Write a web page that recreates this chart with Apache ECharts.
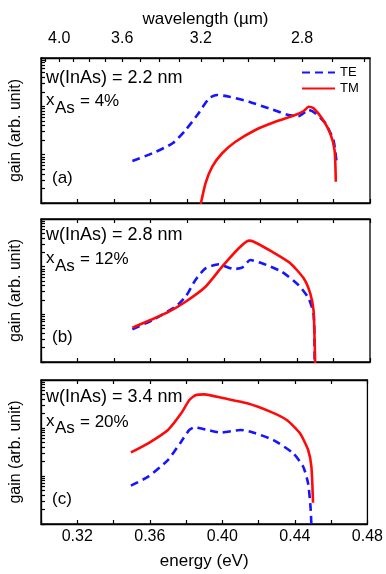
<!DOCTYPE html>
<html><head><meta charset="utf-8">
<script src="https://cdn.jsdelivr.net/npm/echarts@6/dist/echarts.min.js"></script>
<style>html,body{margin:0;padding:0;background:#fff}#c{width:386px;height:574px}</style>
</head><body><div id="c"></div>
<script>
// ---------- data ----------
// panel (a): w(InAs)=2.2 nm, xAs=4%
const energyTE_a = [0.350, 0.361, 0.372, 0.379, 0.3855, 0.392, 0.3964, 0.403, 0.4137, 0.4246, 0.4355, 0.441, 0.4464, 0.450, 0.4555, 0.460, 0.4618];
const gainTE_a   = [7.4, 10.7, 17.2, 32, 66, 147, 172, 158, 125, 91, 66, 63, 84, 72, 45, 20, 6.6];
const energyTM_a = [0.3874, 0.390, 0.3937, 0.3991, 0.4064, 0.4173, 0.4282, 0.4391, 0.4437, 0.4464, 0.4491, 0.4537, 0.4582, 0.4606, 0.4613];
const gainTM_a   = [0.95, 2.56, 5.65, 10.7, 18.5, 32.4, 48, 66, 80, 98, 91, 56.5, 27.7, 12.5, 2.76];
// panel (b): w(InAs)=2.8 nm, xAs=12%
const energyTE_b = [0.350, 0.361, 0.3736, 0.3791, 0.3845, 0.390, 0.3973, 0.4055, 0.410, 0.4145, 0.4209, 0.4318, 0.4409, 0.4464, 0.4491, 0.4496, 0.4497];
const gainTE_b   = [4.85, 7.6, 14.5, 23.4, 52.5, 92, 112, 89, 95, 138, 118, 78, 41, 21.7, 10.5, 2.9, 0.95];
const energyTM_b = [0.350, 0.3609, 0.370, 0.3791, 0.390, 0.3991, 0.4082, 0.4137, 0.4164, 0.4264, 0.4364, 0.4437, 0.4473, 0.4491, 0.4496, 0.4500];
const gainTM_b   = [5.25, 7.9, 11.4, 18.4, 38, 100, 243, 351, 334, 206, 118, 57, 27.6, 12.3, 4, 0.95];
// panel (c): w(InAs)=3.4 nm, xAs=20%
const energyTE_c = [0.3496, 0.3591, 0.370, 0.3773, 0.3818, 0.3845, 0.3918, 0.3991, 0.410, 0.4173, 0.4282, 0.4391, 0.4446, 0.4473, 0.4486, 0.4491];
const gainTE_c   = [6.3, 9.7, 21.5, 52, 91, 103, 91, 80, 91, 80, 56, 29.7, 15.6, 7, 2.3, 0.95];
const energyTM_c = [0.3496, 0.3591, 0.370, 0.3773, 0.3818, 0.3855, 0.390, 0.4009, 0.4137, 0.4264, 0.4355, 0.4428, 0.4473, 0.4491, 0.450];
const gainTM_c   = [31, 48, 91, 202, 383, 487, 502, 415, 327, 219, 147, 77.6, 34.8, 15.6, 2.78];

// tick labels
const energyMajor = [0.32, 0.36, 0.40, 0.44, 0.48];
const energyMinor = [0.30, 0.34, 0.38, 0.42, 0.46];
const wavelengthMajor = [4.0, 3.6, 3.2, 2.8];
const wavelengthMinor = [4.1, 3.9, 3.8, 3.7, 3.5, 3.4, 3.3, 3.1, 3.0, 2.9, 2.7, 2.6];
const gainDecades = [1, 10, 100, 1000];
const gainMinorMult = [2, 3, 4, 5, 6, 7, 8, 9];

const panelTexts = [
  {w: 'w(InAs) = 2.2 nm', x: '= 4%', tag: '(a)'},
  {w: 'w(InAs) = 2.8 nm', x: '= 12%', tag: '(b)'},
  {w: 'w(InAs) = 3.4 nm', x: '= 20%', tag: '(c)'}
];

// ---------- layout ----------
const HC = 1.23984; // eV·µm
const FF = '"Liberation Sans", Arial, sans-serif';
const grids = [
  {left: 40, right: 16, top: 58, height: 145},
  {left: 40, right: 16, top: 219, height: 143},
  {left: 40, right: 16, top: 380, height: 144}
];
const textY = [
  {w: 78, x: 100, as: 108, eq: 101, tag: 178},
  {w: 235, x: 258, as: 266, eq: 259, tag: 337},
  {w: 397, x: 421, as: 428, eq: 422, tag: 499}
];

const num = (a, b) => a - b;
// log-gain tick positions expressed in decades (for a tick-only helper axis)
const gainTickDec = gainDecades.map(d => Math.log10(d));
gainDecades.slice(0, 3).forEach(d => gainMinorMult.forEach(m => gainTickDec.push(Math.log10(d * m))));
gainTickDec.sort(num);
const energyTicks = energyMajor.concat(energyMinor).sort(num);
const wavelengthTickE = wavelengthMajor.concat(wavelengthMinor).map(l => HC / l).sort(num);
const wavelengthLabelE = wavelengthMajor.map(l => HC / l).sort(num);

const axisLineStyle = {color: '#000', width: 1.3};
const tickStyle = {color: '#000', width: 1.2};
const xAxes = [], yAxes = [];
function baseX(gi, pos) {
  return {type: 'value', gridIndex: gi, position: pos, min: 0.30, max: 0.48,
    axisLine: {show: true, onZero: false, lineStyle: axisLineStyle},
    splitLine: {show: false}};
}
const IDX = {};
grids.forEach((g, gi) => {
  IDX['x' + gi] = xAxes.length;
  xAxes.push(Object.assign(baseX(gi, 'bottom'), {
    axisTick: {show: true, inside: true, length: 4, customValues: energyTicks, lineStyle: tickStyle},
    axisLabel: {show: gi === 2, customValues: energyMajor, formatter: v => v.toFixed(2), color: '#000', fontSize: 16, fontFamily: FF, margin: 5},
    name: gi === 2 ? 'energy (eV)' : '', nameLocation: 'middle', nameGap: 29,
    nameTextStyle: {color: '#000', fontSize: 17, fontFamily: FF}
  }));
  if (gi === 0) {
    xAxes.push(Object.assign(baseX(gi, 'top'), {
      axisTick: {show: true, inside: true, length: 4, customValues: wavelengthTickE, lineStyle: tickStyle},
      axisLabel: {show: true, customValues: wavelengthLabelE, formatter: v => (HC / v).toFixed(1), color: '#000', fontSize: 16, fontFamily: FF, margin: 11},
      name: 'wavelength (\u00b5m)', nameLocation: 'middle', nameGap: 30,
      nameTextStyle: {color: '#000', fontSize: 17, fontFamily: FF}
    }));
  } else {
    xAxes.push(Object.assign(baseX(gi, 'top'), {
      axisTick: {show: true, inside: true, length: 4, customValues: energyTicks, lineStyle: tickStyle},
      axisLabel: {show: false}
    }));
  }
  IDX['y' + gi] = yAxes.length;
  yAxes.push({type: 'log', gridIndex: gi, min: 1, max: 1000, logBase: 10, position: 'left',
    axisLine: {show: true, lineStyle: axisLineStyle},
    axisTick: {show: false},
    axisLabel: {show: false}, splitLine: {show: false},
    name: 'gain (arb. unit)', nameLocation: 'middle', nameGap: 17, nameRotate: 90,
    nameTextStyle: {color: '#000', fontSize: 16, fontFamily: FF}
  });
  // tick-only helper axis in decades, carrying the log ticks
  yAxes.push({type: 'value', gridIndex: gi, min: 0, max: 3, position: 'left', show: true,
    axisLine: {show: false},
    axisTick: {show: true, inside: true, length: 4, customValues: gainTickDec, lineStyle: tickStyle},
    axisLabel: {show: false}, splitLine: {show: false}
  });
});

const panels = [
  [energyTE_a, gainTE_a, energyTM_a, gainTM_a],
  [energyTE_b, gainTE_b, energyTM_b, gainTM_b],
  [energyTE_c, gainTE_c, energyTM_c, gainTM_c]
];
const series = [];
panels.forEach((p, gi) => {
  series.push({name: 'TE', type: 'line', xAxisIndex: IDX['x' + gi], yAxisIndex: IDX['y' + gi],
    data: p[0].map((e, i) => [e, p[1][i]]), showSymbol: false, symbol: 'none', smooth: 0.2, clip: true,
    lineStyle: {color: '#1515ff', width: 2.6, type: [8, 5]}, itemStyle: {color: '#1515ff'}, z: 3});
  series.push({name: 'TM', type: 'line', xAxisIndex: IDX['x' + gi], yAxisIndex: IDX['y' + gi],
    data: p[2].map((e, i) => [e, p[3][i]]), showSymbol: false, symbol: 'none', smooth: 0.2, clip: true,
    lineStyle: {color: '#ff0a0a', width: 2.6}, itemStyle: {color: '#ff0a0a'}, z: 4});
});

const graphic = [];
panelTexts.forEach((t, gi) => {
  const y = textY[gi];
  const mk = (text, x, yy, size) => ({type: 'text', x: x, y: yy, silent: true,
    style: {text: text, font: size + 'px ' + FF, fill: '#000', verticalAlign: 'middle', align: 'left'}});
  graphic.push(mk(t.w, 46, y.w, 18));
  graphic.push(mk('x', 46, y.x, 17));
  graphic.push(mk('As', 55, y.as, 17));
  graphic.push(mk(t.x, 80, y.eq, 17));
  graphic.push(mk(t.tag, 52, y.tag, 17));
});

const chart = echarts.init(document.getElementById('c'), null, {renderer: 'canvas'});
chart.setOption({
  animation: false,
  backgroundColor: '#fff',
  grid: grids.map(g => Object.assign({show: true, borderColor: '#000', borderWidth: 1.3, backgroundColor: 'transparent'}, g)),
  xAxis: xAxes,
  yAxis: yAxes,
  legend: {data: ['TE', 'TM'], orient: 'vertical', left: 301, top: 66, itemWidth: 33, itemHeight: 14, itemGap: 3,
    padding: 0, itemStyle: {opacity: 0}, textStyle: {color: '#000', fontSize: 13, fontFamily: FF}},
  series: series,
  graphic: graphic
});
</script></body></html>
